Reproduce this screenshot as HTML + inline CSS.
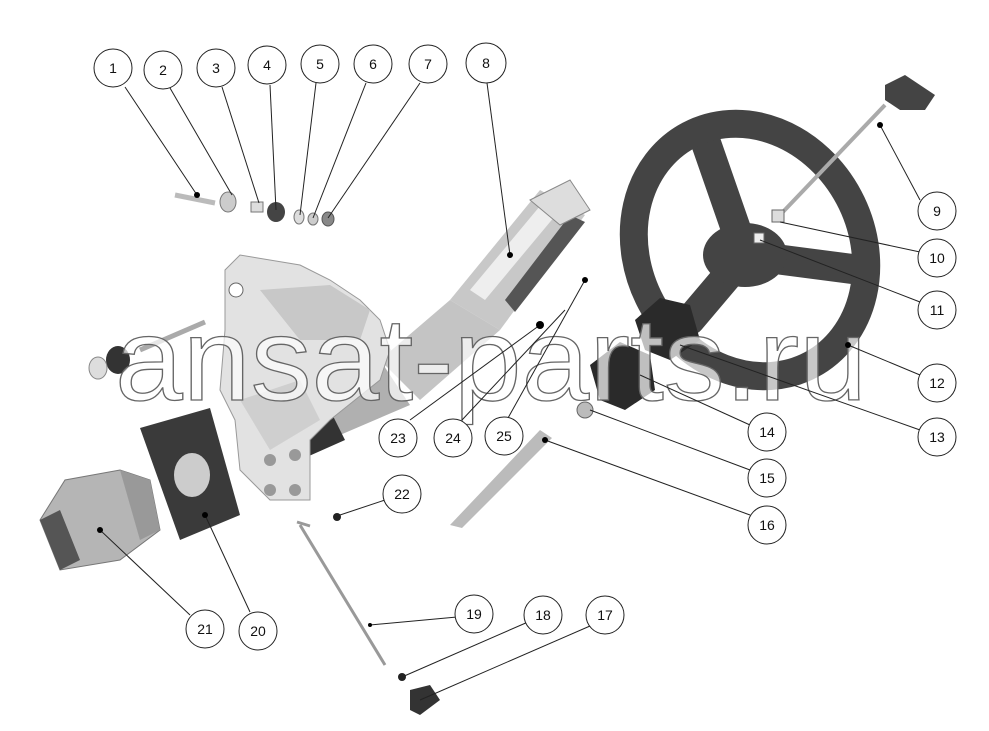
<!DOCTYPE html>
<html><head><style>body{margin:0;background:#fff}svg{display:block}</style></head><body>
<svg width="989" height="731" viewBox="0 0 989 731" xmlns="http://www.w3.org/2000/svg" font-family="Liberation Sans, sans-serif">
<rect width="989" height="731" fill="#fff"/>
<!-- column tube -->
<g>
<polygon points="450,300 540,190 585,215 500,330" fill="#c8c8c8"/>
<polygon points="470,290 545,200 560,210 485,300" fill="#eee"/>
<polygon points="505,300 570,215 585,222 515,312" fill="#555"/>
<polygon points="530,200 570,180 590,210 560,225" fill="#ddd" stroke="#888"/>
<polygon points="380,360 450,300 500,330 420,400" fill="#c4c4c4"/>
<polygon points="290,410 380,360 410,405 305,450" fill="#b0b0b0"/>
<polygon points="285,430 330,410 345,440 300,460" fill="#333"/>
</g>
<!-- bracket -->
<polygon points="225,270 240,255 300,265 330,280 360,300 380,320 390,350 380,380 330,420 310,440 310,500 270,500 240,470 235,420 220,390 225,330" fill="#e2e2e2" stroke="#999"/>
<polygon points="260,290 330,285 370,310 360,340 300,340" fill="#c8c8c8"/>
<polygon points="240,400 300,380 320,420 270,450" fill="#cfcfcf"/>
<circle cx="236" cy="290" r="7" fill="#fff" stroke="#666"/>
<circle cx="270" cy="490" r="6" fill="#999"/><circle cx="295" cy="490" r="6" fill="#999"/>
<circle cx="270" cy="460" r="6" fill="#999"/><circle cx="295" cy="455" r="6" fill="#999"/>
<!-- bolt left -->
<line x1="140" y1="350" x2="205" y2="322" stroke="#aaa" stroke-width="5"/>
<ellipse cx="118" cy="360" rx="12" ry="14" fill="#333"/>
<ellipse cx="98" cy="368" rx="9" ry="11" fill="#ddd" stroke="#888"/>
<!-- plate -->
<polygon points="140,428 210,408 240,515 180,540" fill="#3a3a3a"/>
<ellipse cx="192" cy="475" rx="18" ry="22" fill="#ccc"/>
<!-- pump -->
<polygon points="40,520 65,480 120,470 150,480 160,530 120,560 60,570" fill="#b5b5b5" stroke="#777"/>
<polygon points="40,520 60,510 80,560 60,570" fill="#555"/>
<polygon points="120,470 150,480 160,530 140,540" fill="#999"/>
<!-- small parts top -->
<line x1="175" y1="195" x2="215" y2="203" stroke="#bbb" stroke-width="5"/>
<ellipse cx="228" cy="202" rx="8" ry="10" fill="#ccc" stroke="#777"/>
<rect x="251" y="202" width="12" height="10" fill="#ddd" stroke="#777"/>
<ellipse cx="276" cy="212" rx="9" ry="10" fill="#444"/>
<ellipse cx="299" cy="217" rx="5" ry="7" fill="#ddd" stroke="#777"/>
<ellipse cx="313" cy="219" rx="5" ry="6" fill="#ccc" stroke="#777"/>
<ellipse cx="328" cy="219" rx="6" ry="7" fill="#888" stroke="#555"/>
<!-- steering wheel -->
<g stroke="#444" stroke-linecap="round">
<line x1="745" y1="255" x2="705" y2="140" stroke-width="30"/>
<line x1="745" y1="255" x2="690" y2="320" stroke-width="30"/>
<line x1="745" y1="255" x2="860" y2="270" stroke-width="30"/>
</g>
<ellipse cx="745" cy="255" rx="42" ry="32" fill="#444"/>
<ellipse cx="750" cy="250" rx="112" ry="130" transform="rotate(-28 750 250)" fill="none" stroke="#444" stroke-width="28"/>
<line x1="780" y1="215" x2="885" y2="105" stroke="#aaa" stroke-width="4"/>
<polygon points="885,85 905,75 935,95 925,110 900,110 885,100" fill="#444"/>
<rect x="772" y="210" width="12" height="12" fill="#ddd" stroke="#666"/>
<rect x="754" y="233" width="10" height="10" fill="#eee" stroke="#666"/>
<!-- hub -->
<polygon points="635,320 660,298 690,305 700,340 670,360 645,350" fill="#2a2a2a"/>
<polygon points="590,365 620,342 650,355 655,390 625,410 600,400" fill="#2a2a2a"/>
<ellipse cx="585" cy="410" rx="8" ry="8" fill="#bbb" stroke="#666"/>
<polygon points="450,525 540,430 552,438 462,528" fill="#bbb"/>
<!-- lower parts -->
<circle cx="337" cy="517" r="4" fill="#222"/>
<line x1="300" y1="525" x2="385" y2="665" stroke="#999" stroke-width="3"/>
<line x1="297" y1="522" x2="310" y2="526" stroke="#999" stroke-width="3"/>
<circle cx="402" cy="677" r="4" fill="#222"/>
<polygon points="410,690 430,685 440,700 420,715 410,710" fill="#333"/>
<!-- watermark -->
<text x="115" y="400" font-size="118" textLength="752" lengthAdjust="spacingAndGlyphs" fill="#fff" fill-opacity="0.7" stroke="#666" stroke-width="1.3">ansat-parts.ru</text>
<!-- leaders -->
<g stroke="#222" stroke-width="1" fill="none">
<line x1="125" y1="87" x2="197" y2="195"/><line x1="170" y1="88" x2="232" y2="195"/>
<line x1="222" y1="87" x2="259" y2="203"/><line x1="270" y1="85" x2="276" y2="210"/>
<line x1="316" y1="83" x2="300" y2="215"/><line x1="366" y1="83" x2="313" y2="218"/>
<line x1="420" y1="83" x2="328" y2="218"/><line x1="487" y1="83" x2="510" y2="255"/>
<line x1="920" y1="200" x2="880" y2="125"/><line x1="920" y1="252" x2="780" y2="222"/>
<line x1="920" y1="302" x2="760" y2="240"/><line x1="920" y1="375" x2="848" y2="345"/>
<line x1="920" y1="430" x2="680" y2="345"/><line x1="750" y1="425" x2="640" y2="375"/>
<line x1="750" y1="470" x2="590" y2="410"/><line x1="750" y1="515" x2="545" y2="440"/>
<line x1="385" y1="500" x2="337" y2="516"/><line x1="410" y1="420" x2="540" y2="325"/>
<line x1="462" y1="420" x2="565" y2="310"/><line x1="508" y1="418" x2="585" y2="280"/>
<line x1="190" y1="615" x2="100" y2="530"/><line x1="250" y1="612" x2="205" y2="515"/>
<line x1="457" y1="617" x2="370" y2="625"/><line x1="528" y1="622" x2="402" y2="677"/>
<line x1="590" y1="626" x2="420" y2="700"/>
</g>
<circle cx="197" cy="195" r="3"/><circle cx="510" cy="255" r="3"/><circle cx="880" cy="125" r="3"/><circle cx="848" cy="345" r="3"/><circle cx="545" cy="440" r="3"/><circle cx="540" cy="325" r="4"/><circle cx="585" cy="280" r="3"/><circle cx="370" cy="625" r="2"/><circle cx="100" cy="530" r="3"/><circle cx="205" cy="515" r="3"/>
<!-- callouts -->
<g fill="#fff" stroke="#222" stroke-width="1">
<circle cx="113" cy="68" r="19"/><circle cx="163" cy="70" r="19"/><circle cx="216" cy="68" r="19"/><circle cx="267" cy="65" r="19"/><circle cx="320" cy="64" r="19"/><circle cx="373" cy="64" r="19"/><circle cx="428" cy="64" r="19"/><circle cx="486" cy="63" r="20"/>
<circle cx="937" cy="211" r="19"/><circle cx="937" cy="258" r="19"/><circle cx="937" cy="310" r="19"/><circle cx="937" cy="383" r="19"/><circle cx="937" cy="437" r="19"/>
<circle cx="767" cy="432" r="19"/><circle cx="767" cy="478" r="19"/><circle cx="767" cy="525" r="19"/>
<circle cx="402" cy="494" r="19"/><circle cx="398" cy="438" r="19"/><circle cx="453" cy="438" r="19"/><circle cx="504" cy="436" r="19"/>
<circle cx="205" cy="629" r="19"/><circle cx="258" cy="631" r="19"/><circle cx="474" cy="614" r="19"/><circle cx="543" cy="615" r="19"/><circle cx="605" cy="615" r="19"/>
</g>
<g font-size="14" text-anchor="middle" fill="#111">
<text x="113" y="73">1</text><text x="163" y="75">2</text><text x="216" y="73">3</text><text x="267" y="70">4</text><text x="320" y="69">5</text><text x="373" y="69">6</text><text x="428" y="69">7</text><text x="486" y="68">8</text>
<text x="937" y="216">9</text><text x="937" y="263">10</text><text x="937" y="315">11</text><text x="937" y="388">12</text><text x="937" y="442">13</text>
<text x="767" y="437">14</text><text x="767" y="483">15</text><text x="767" y="530">16</text>
<text x="402" y="499">22</text><text x="398" y="443">23</text><text x="453" y="443">24</text><text x="504" y="441">25</text>
<text x="205" y="634">21</text><text x="258" y="636">20</text><text x="474" y="619">19</text><text x="543" y="620">18</text><text x="605" y="620">17</text>
</g>
</svg>
</body></html>
